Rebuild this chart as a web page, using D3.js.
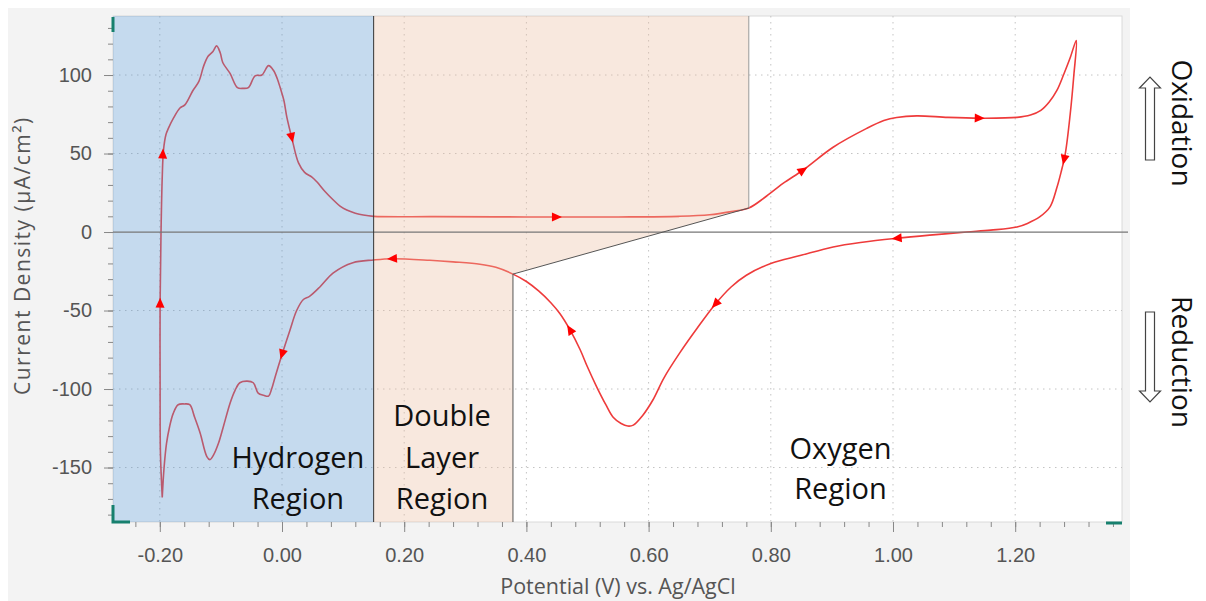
<!DOCTYPE html>
<html>
<head>
<meta charset="utf-8">
<script src="https://cdn.jsdelivr.net/npm/d3@7"></script>
<style>
  body { margin: 0; background: #fff; }
  svg { display: block; font-family: "Open Sans", "Noto Sans", sans-serif; }
</style>
</head>
<body>
<div id="chart"></div>
<script>
// cyclic voltammogram (V vs Ag/AgCl, µA/cm²)
let potential = [
  -0.196, -0.199, -0.1995, -0.1995, -0.198, -0.196, -0.194, -0.190, -0.186, -0.177,
  -0.167, -0.159, -0.146, -0.136, -0.128, -0.121, -0.113, -0.107, -0.101, -0.097,
  -0.085, -0.073, -0.064, -0.055, -0.044, -0.033, -0.022, -0.014, -0.008, -0.003,
  0.003, 0.008, 0.016, 0.027, 0.037, 0.049, 0.057, 0.070, 0.084, 0.095,
  0.106, 0.120, 0.133, 0.150, 0.250, 0.400, 0.550, 0.650, 0.700, 0.735,
  0.764, 0.790, 0.820, 0.853, 0.902, 0.957, 0.985, 1.006, 1.039, 1.090,
  1.142, 1.203, 1.225, 1.242, 1.256, 1.268, 1.280, 1.290, 1.300,
  1.296, 1.290, 1.282, 1.275, 1.268, 1.257, 1.240, 1.220, 1.203, 1.160,
  1.121, 1.060, 1.006, 0.950, 0.902, 0.848, 0.800, 0.760, 0.735, 0.709,
  0.680, 0.651, 0.625, 0.607, 0.590, 0.575, 0.566, 0.555, 0.542, 0.530,
  0.515, 0.500, 0.488, 0.471, 0.455, 0.440, 0.420, 0.400, 0.378, 0.350,
  0.324, 0.280, 0.242, 0.180, 0.150, 0.116, 0.084, 0.062, 0.045, 0.035,
  0.024, 0.013, 0.000, -0.011, -0.017, -0.022, -0.030, -0.039, -0.047, -0.057,
  -0.069, -0.077, -0.085, -0.096, -0.104, -0.112, -0.118, -0.123, -0.134, -0.143,
  -0.151, -0.160, -0.170, -0.178, -0.184, -0.189, -0.193, -0.196
];
let current = [
  -169, -140, -100, -45, 0, 35, 52, 62, 66, 73,
  79, 81, 90, 96, 106, 112, 115, 118.6, 114, 108,
  101, 92, 91.5, 92, 99.5, 100, 106, 103, 98, 92,
  84, 73, 60, 44, 38, 35, 32, 26, 20.4, 16.5,
  14, 12, 10.8, 10, 9.8, 9.6, 9.6, 10, 11, 13,
  15.3, 22, 31, 39.5, 54, 66, 71, 73, 74, 73,
  72.5, 73, 74.5, 77.5, 83, 90, 101, 111, 122,
  100, 75, 50, 38, 28, 16, 9.6, 5.5, 3.2, 1.2,
  0, -2, -4, -6.5, -9.5, -15, -20, -27.5, -35, -46,
  -61, -77, -93, -107, -117, -123, -123.6, -122, -118, -110,
  -98.6, -86, -75, -62, -52, -45, -37.5, -31.5, -26.8, -22.5,
  -20.5, -19, -18, -17, -17.8, -19.5, -26, -35, -41, -43,
  -50, -62.5, -78, -92, -100, -104.5, -104, -102.6, -96, -95,
  -96, -101, -109, -124, -134.6, -142, -145, -143, -128, -118,
  -110, -109.5, -110, -115.5, -124, -134.6, -150, -169
];

// sweep direction markers
let arrowV = [-0.1995, -0.195, 0.016, 0.45, 0.853, 1.142, 1.28, 1.006, 0.709, 0.471, 0.18, 0.0];
let arrowI = [-45, 50, 60, 9.6, 39.5, 72.5, 46, -4, -46, -62, -17, -78];

// region boundaries (V) and the corners of the double layer polygon
let hydrogenEnd = 0.15;
let layerTop = [0.764, 15.3];
let layerBottom = [0.378, -26.8];

let xMajor = [-0.2, 0, 0.2, 0.4, 0.6, 0.8, 1.0, 1.2];
let yMajor = [-150, -100, -50, 0, 50, 100];
let xMinor = d3.range(-24, 137, 4).map(d => d / 100);
let yMinor = d3.range(-180, 131, 10);

let regionLabels = [
  { lines: ["Hydrogen", "Region"], v: 0.026, i: [-143, -169] },
  { lines: ["Double", "Layer", "Region"], v: 0.262, i: [-116, -143, -169] },
  { lines: ["Oxygen", "Region"], v: 0.914, i: [-137, -163] }
];

const W = 1206, H = 601;
let margin = { top: 16, left: 113 },
    width = 1009,
    height = 506;

let svg = d3.select("#chart").append("svg")
    .attr("width", W)
    .attr("height", H);

// grey panel behind the plot
svg.append("rect")
    .attr("x", 8).attr("y", 8)
    .attr("width", 1122).attr("height", H - 8)
    .attr("fill", "#f3f3f3");

let g = svg.append("g")
    .attr("transform", "translate(" + margin.left + "," + margin.top + ")");

let x = d3.scaleLinear().domain([-0.2766, 1.3748]).range([0, width]);
let y = d3.scaleLinear().domain([137.6, -184.7]).range([0, height]);

g.append("rect")
    .attr("width", width).attr("height", height)
    .attr("fill", "#fff")
    .attr("stroke", "#dadada");

// dotted grid
g.selectAll(".gx").data(xMajor).enter().append("line")
    .attr("x1", d => x(d)).attr("x2", d => x(d))
    .attr("y1", 0).attr("y2", height)
    .attr("stroke", "#c4c4c4").attr("stroke-dasharray", "1.5,4.5");
g.selectAll(".gy").data(yMajor.filter(d => d != 0)).enter().append("line")
    .attr("x1", 0).attr("x2", width)
    .attr("y1", d => y(d)).attr("y2", d => y(d))
    .attr("stroke", "#c4c4c4").attr("stroke-dasharray", "1.5,4.5");

// the curve
let pts = potential.map((v, k) => [v, current[k]]);
let line = d3.line()
    .x(d => x(d[0]))
    .y(d => y(d[1]))
    .curve(d3.curveCatmullRom.alpha(0.5));

g.append("path")
    .datum(pts)
    .attr("d", line)
    .attr("fill", "none")
    .attr("stroke", "#ee3b3b")
    .attr("stroke-width", 1.6);

// shaded regions, laid over the curve
let yTop = y.domain()[0], yBot = y.domain()[1];
g.append("rect")
    .attr("x", 0).attr("y", 0)
    .attr("width", x(hydrogenEnd)).attr("height", height)
    .attr("fill", "rgb(89,149,206)").attr("fill-opacity", 0.35);

let layerPoly = [
  [hydrogenEnd, yTop], [layerTop[0], yTop], layerTop,
  layerBottom, [layerBottom[0], yBot], [hydrogenEnd, yBot]
];
g.append("path")
    .attr("d", "M" + layerPoly.map(p => x(p[0]) + "," + y(p[1])).join("L") + "Z")
    .attr("fill", "rgb(235,189,161)").attr("fill-opacity", 0.35);

// zero line
g.append("line")
    .attr("x1", 0).attr("x2", width + 6)
    .attr("y1", y(0)).attr("y2", y(0))
    .attr("stroke", "#777").attr("stroke-width", 1.2);

// region borders
g.append("line")
    .attr("x1", x(hydrogenEnd)).attr("x2", x(hydrogenEnd))
    .attr("y1", 0).attr("y2", height)
    .attr("stroke", "#333").attr("stroke-width", 1);
g.append("line")
    .attr("x1", x(layerTop[0])).attr("x2", x(layerTop[0]))
    .attr("y1", 0).attr("y2", y(layerTop[1]))
    .attr("stroke", "#999").attr("stroke-width", 1);
g.append("line")
    .attr("x1", x(layerTop[0])).attr("x2", x(layerBottom[0]))
    .attr("y1", y(layerTop[1])).attr("y2", y(layerBottom[1]))
    .attr("stroke", "#555").attr("stroke-width", 1);
g.append("line")
    .attr("x1", x(layerBottom[0])).attr("x2", x(layerBottom[0]))
    .attr("y1", y(layerBottom[1])).attr("y2", height)
    .attr("stroke", "#555").attr("stroke-width", 1);

// arrowheads pointing along the sweep
let screen = pts.map(d => [x(d[0]), y(d[1])]);
arrowV.forEach(function (v, n) {
    let px = x(v), py = y(arrowI[n]);
    let best = 0, bestD = Infinity;
    for (let k = 0; k < screen.length - 1; k++) {
        let mx = (screen[k][0] + screen[k + 1][0]) / 2, my = (screen[k][1] + screen[k + 1][1]) / 2;
        let dd = (mx - px) ** 2 + (my - py) ** 2;
        if (dd < bestD) { bestD = dd; best = k; }
    }
    let a = Math.atan2(screen[best + 1][1] - screen[best][1], screen[best + 1][0] - screen[best][0]) * 180 / Math.PI;
    g.append("path")
        .attr("d", "M5,0L-5,-4.5L-5,4.5Z")
        .attr("transform", "translate(" + px + "," + py + ")rotate(" + a + ")")
        .attr("fill", "#ff0000");
});

// axes
let fmtX = d => d.toFixed(2);
let xAxis = g.append("g")
    .attr("transform", "translate(0," + height + ")")
    .call(d3.axisBottom(x).tickValues(xMinor).tickSize(5).tickFormat(""));
let xAxisMajor = g.append("g")
    .attr("transform", "translate(0," + height + ")")
    .call(d3.axisBottom(x).tickValues(xMajor).tickSize(10).tickPadding(16).tickFormat(fmtX));
let yAxis = g.append("g")
    .call(d3.axisLeft(y).tickValues(yMinor).tickSize(5).tickFormat(""));
let yAxisMajor = g.append("g")
    .call(d3.axisLeft(y).tickValues(yMajor).tickSize(9).tickPadding(12).tickFormat(d => String(d)));

[xAxis, xAxisMajor, yAxis, yAxisMajor].forEach(function (a) {
    a.select(".domain").remove();
    a.selectAll("line").attr("stroke", "#888");
    a.selectAll("text").attr("fill", "#555").style("font-size", "20px");
});

// teal corner marks
let teal = "#17806e";
g.append("rect").attr("x", -1.5).attr("y", 1).attr("width", 3).attr("height", 15).attr("fill", teal);
g.append("path").attr("d", "M0," + (height - 17) + "V" + height + "H17")
    .attr("fill", "none").attr("stroke", teal).attr("stroke-width", 3);
g.append("line").attr("x1", width - 16).attr("x2", width).attr("y1", height + 1).attr("y2", height + 1)
    .attr("stroke", teal).attr("stroke-width", 3);

// axis titles
svg.append("text")
    .attr("transform", "translate(30,395)rotate(-90)")
    .attr("text-anchor", "start")
    .attr("fill", "#555")
    .style("font-size", "21px")
    .style("letter-spacing", "1.5px")
    .text("Current Density (µA/cm²)");

svg.append("text")
    .attr("x", 618).attr("y", 594)
    .attr("text-anchor", "middle")
    .attr("fill", "#555")
    .style("font-size", "21.5px")
    .text("Potential (V) vs. Ag/AgCl");

// region labels
regionLabels.forEach(function (r) {
    r.lines.forEach(function (t, k) {
        g.append("text")
            .attr("x", x(r.v)).attr("y", y(r.i[k]))
            .attr("text-anchor", "middle")
            .attr("dominant-baseline", "central")
            .attr("fill", "#111")
            .style("font-size", "29px")
            .text(t);
    });
});

// oxidation / reduction notes on the right
function hollowArrow(x0, yTail, yTip) {
    let s = yTip < yTail ? 1 : -1;
    let yBase = yTip + s * 11;
    return "M" + (x0 - 4.5) + "," + yTail + "V" + yBase + "H" + (x0 - 10.5) + "L" + x0 + "," + yTip +
        "L" + (x0 + 10.5) + "," + yBase + "H" + (x0 + 4.5) + "V" + yTail + "Z";
}
svg.append("path").attr("d", hollowArrow(1150, 160, 77))
    .attr("fill", "#fff").attr("stroke", "#444").attr("stroke-width", 1.2);
svg.append("path").attr("d", hollowArrow(1150, 312, 402))
    .attr("fill", "#fff").attr("stroke", "#444").attr("stroke-width", 1.2);

[["Oxidation", 123], ["Reduction", 362]].forEach(function (d) {
    svg.append("text")
        .attr("transform", "translate(1183," + d[1] + ")rotate(90)")
        .attr("text-anchor", "middle")
        .attr("dominant-baseline", "central")
        .attr("fill", "#111")
        .style("font-size", "28px")
        .text(d[0]);
});
</script>
</body>
</html>
